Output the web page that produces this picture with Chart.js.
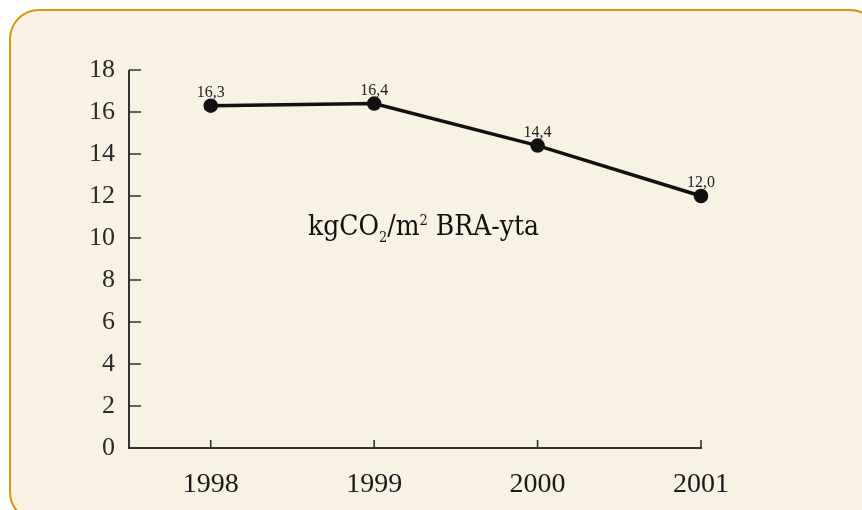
<!DOCTYPE html>
<html>
<head>
<meta charset="utf-8">
<script src="https://cdn.jsdelivr.net/npm/chart.js@4.4.1/dist/chart.umd.min.js"></script>
<style>
  html, body { margin: 0; padding: 0; background: #ffffff; overflow: hidden; }
  #wrap { position: relative; width: 862px; height: 510px; overflow: hidden; }
  #frame {
    position: absolute; left: 9px; top: 9px; width: 871px; height: 513px;
    box-sizing: border-box; border: 2px solid #d69808; border-radius: 30px;
    background: #f8f2e5;
  }
  #chart { position: absolute; left: 0; top: 0; }
</style>
</head>
<body>
<div id="wrap">
  <div id="frame"></div>
  <canvas id="chart" width="862" height="510"></canvas>
</div>
<script>
// data
const years = [1998, 1999, 2000, 2001];
const co2PerArea = [16.3, 16.4, 14.4, 12.0];
const valueLabels = ['16,3', '16,4', '14,4', '12,0'];
const yTickValues = [0, 2, 4, 6, 8, 10, 12, 14, 16, 18];

const axisColor = '#333333';
const serif = '"Liberation Serif", "Times New Roman", serif';

// axis lines and inward ticks, drawn from the chart's own scales
const axesPlugin = {
  id: 'axesPlugin',
  beforeDatasetsDraw(chart) {
    const ctx = chart.ctx;
    const x = chart.scales.x, y = chart.scales.y;
    const x0 = x.getPixelForValue(x.min);
    const y0 = y.getPixelForValue(0);
    ctx.save();
    ctx.strokeStyle = axisColor;
    ctx.lineWidth = 2;
    ctx.beginPath();
    ctx.moveTo(x0, y.getPixelForValue(18));
    ctx.lineTo(x0, y0 + 1);
    ctx.moveTo(x0 - 1, y0);
    ctx.lineTo(x.getPixelForValue(years[years.length - 1]) + 1, y0);
    ctx.stroke();
    ctx.lineWidth = 1.6;
    ctx.beginPath();
    yTickValues.forEach(v => {
      const py = y.getPixelForValue(v);
      ctx.moveTo(x0, py);
      ctx.lineTo(x0 + 12, py);
    });
    years.forEach(yr => {
      const px = x.getPixelForValue(yr);
      ctx.moveTo(px, y0);
      ctx.lineTo(px, y0 - 8);
    });
    ctx.stroke();
    ctx.restore();
  },
  afterDatasetsDraw(chart) {
    const ctx = chart.ctx;
    const meta = chart.getDatasetMeta(0);
    ctx.save();
    ctx.fillStyle = '#222222';
    ctx.font = '16px ' + serif;
    ctx.textAlign = 'center';
    ctx.textBaseline = 'alphabetic';
    meta.data.forEach((pt, i) => {
      ctx.fillText(valueLabels[i], pt.x, pt.y - 9);
    });

    // unit note inside the plot, squeezed to the width seen in the picture
    const big = '27px "DejaVu Serif", serif';
    const small = '14px "DejaVu Serif", serif';
    const parts = [
      ['kgCO', big, 0], ['2', small, 7], ['/m', big, 0],
      ['2', small, -10], [' BRA-yta', big, 0]
    ];
    let total = 0;
    parts.forEach(p => { ctx.font = p[1]; total += ctx.measureText(p[0]).width; });
    ctx.translate(308, 235);
    ctx.scale(231 / total, 1);
    ctx.textAlign = 'left';
    ctx.fillStyle = '#111111';
    let cx = 0;
    parts.forEach(p => {
      ctx.font = p[1];
      ctx.fillText(p[0], cx, p[2]);
      cx += ctx.measureText(p[0]).width;
    });
    ctx.restore();
  }
};

new Chart(document.getElementById('chart'), {
  type: 'line',
  data: {
    datasets: [{
      data: years.map((yr, i) => ({ x: yr, y: co2PerArea[i] })),
      borderColor: '#111111',
      borderWidth: 3.5,
      pointBackgroundColor: '#111111',
      pointBorderColor: '#111111',
      pointRadius: 5.5,
      tension: 0,
      clip: false
    }]
  },
  options: {
    responsive: false,
    animation: false,
    events: [],
    layout: { padding: { left: 0, right: 161, top: 70, bottom: 0 } },
    plugins: { legend: { display: false }, tooltip: { enabled: false } },
    scales: {
      x: {
        type: 'linear',
        min: 1997.5,
        max: 2001,
        afterFit(scale) { scale.height = 62; },
        afterBuildTicks(scale) { scale.ticks = years.map(v => ({ value: v })); },
        grid: { display: false, drawTicks: false },
        border: { display: false },
        ticks: {
          color: '#1a1a1a',
          font: { family: serif, size: 28 },
          padding: 20,
          maxRotation: 0,
          callback: v => String(v)
        }
      },
      y: {
        min: 0,
        max: 18,
        afterFit(scale) { scale.width = 129; },
        afterBuildTicks(scale) { scale.ticks = yTickValues.map(v => ({ value: v })); },
        grid: { display: false, drawTicks: false },
        border: { display: false },
        ticks: {
          color: '#2a2a2a',
          font: { family: serif, size: 26 },
          padding: 14
        }
      }
    }
  },
  plugins: [axesPlugin]
});
</script>
</body>
</html>
